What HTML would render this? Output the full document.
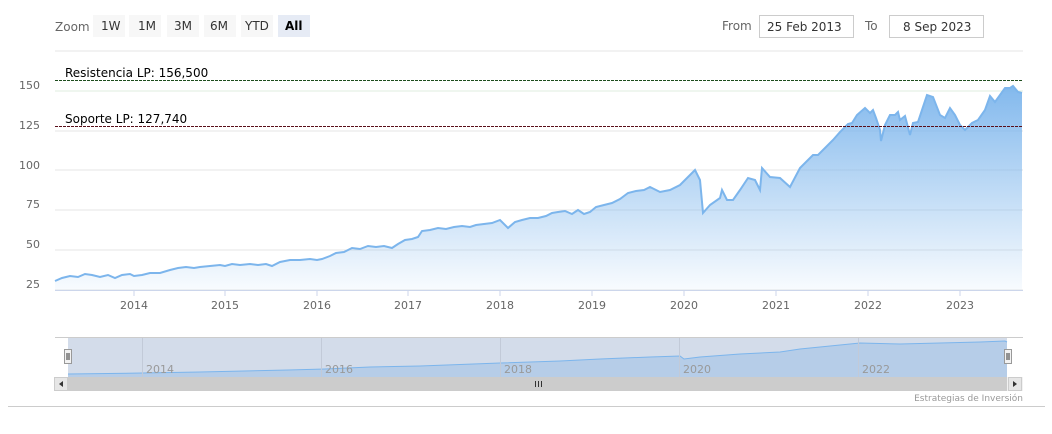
<!DOCTYPE html>
<html><head><meta charset="utf-8"><style>
body{margin:0;background:#fff;width:1052px;height:429px;overflow:hidden;font-family:"Liberation Sans","DejaVu Sans",sans-serif}
svg text{font-family:"DejaVu Sans","Liberation Sans",sans-serif}
</style></head><body>
<svg width="1052" height="429" viewBox="0 0 1052 429" xmlns="http://www.w3.org/2000/svg">
<defs>
<linearGradient id="g" x1="0" y1="0" x2="0" y2="1"><stop offset="0" stop-color="#7cb5ec" stop-opacity="0.95"/><stop offset="1" stop-color="#7cb5ec" stop-opacity="0.05"/></linearGradient>
</defs>
<!-- buttons -->
<text x="55" y="31" font-size="12" fill="#666">Zoom</text>
<g font-size="12" fill="#333">
<rect x="93" y="15" width="32" height="22" fill="#f7f7f7"/><text x="101" y="30">1W</text>
<rect x="129" y="15" width="32" height="22" fill="#f7f7f7"/><text x="138" y="30">1M</text>
<rect x="167" y="15" width="32" height="22" fill="#f7f7f7"/><text x="174" y="30">3M</text>
<rect x="204" y="15" width="32" height="22" fill="#f7f7f7"/><text x="210" y="30">6M</text>
<rect x="241" y="15" width="32" height="22" fill="#f7f7f7"/><text x="245" y="30">YTD</text>
<rect x="278" y="15" width="32" height="22" fill="#e6ebf5"/><text x="285" y="30" font-weight="bold" fill="#000">All</text>
</g>
<text x="722" y="30" font-size="12" fill="#666">From</text>
<rect x="759.5" y="15.5" width="94" height="22" fill="#fff" stroke="#ccc"/>
<text x="767" y="31" font-size="12" fill="#333">25 Feb 2013</text>
<text x="865" y="30" font-size="12" fill="#666">To</text>
<rect x="889.5" y="15.5" width="94" height="22" fill="#fff" stroke="#ccc"/>
<text x="903" y="31" font-size="12" fill="#333">8 Sep 2023</text>
<line x1="55" y1="51" x2="1023" y2="51" stroke="#e6e6e6"/>
<!-- grid -->
<g stroke="#e6e6e6">
<line x1="55" y1="91" x2="1023" y2="91" stroke="#dfeedf"/><line x1="55" y1="131" x2="1023" y2="131"/><line x1="55" y1="170" x2="1023" y2="170"/><line x1="55" y1="210" x2="1023" y2="210"/><line x1="55" y1="250" x2="1023" y2="250"/><line x1="55" y1="290" x2="1023" y2="290"/>
</g>
<g font-size="11" fill="#666" text-anchor="end">
<text x="40" y="89">150</text><text x="40" y="129">125</text><text x="40" y="169">100</text><text x="40" y="208">75</text><text x="40" y="248">50</text><text x="40" y="288">25</text>
</g>
<path id="s" d="M55,281 L62,278 70,276 78,277 85,274 92,275 100,277 108,275 115,278 122,275 130,274 134,276 142,275 150,273 160,273 170,270 178,268 186,267 194,268 200,267 210,266 220,265 225,266 232,264 240,265 250,264 258,265 266,264 272,266 280,262 290,260 300,260 310,259 317,260 322,259 330,256 336,253 344,252 352,248 360,249 368,246 376,247 384,246 392,248 398,244 405,240 412,239 418,237 422,231 430,230 438,228 446,229 454,227 462,226 470,227 476,225 484,224 492,223 500,220 508,228 515,222 522,220 530,218 538,218 546,216 552,213 558,212 565,211 572,214 578,210 584,214 590,212 596,207 604,205 612,203 620,199 628,193 636,191 644,190 650,187 660,192 670,190 680,185 690,175 695,170 700,180 703,213 710,205 720,198 722,190 727,200 733,200 740,190 748,178 755,180 760,190 762,168 770,177 780,178 790,187 800,168 808,160 813,155 818,155 825,148 833,140 840,132 848,124 852,123 857,115 865,108 870,113 873,110 876,118 880,130 881,141 885,125 890,115 895,115 898,112 900,120 905,116 910,135 913,123 918,122 922,110 927,95 933,97 940,115 945,118 950,108 955,115 960,125 965,130 972,123 978,120 985,110 990,96 995,102 1005,88 1010,88 1013,86 1018,92 1022,93" fill="none"/>
<path d="M55,281 L62,278 70,276 78,277 85,274 92,275 100,277 108,275 115,278 122,275 130,274 134,276 142,275 150,273 160,273 170,270 178,268 186,267 194,268 200,267 210,266 220,265 225,266 232,264 240,265 250,264 258,265 266,264 272,266 280,262 290,260 300,260 310,259 317,260 322,259 330,256 336,253 344,252 352,248 360,249 368,246 376,247 384,246 392,248 398,244 405,240 412,239 418,237 422,231 430,230 438,228 446,229 454,227 462,226 470,227 476,225 484,224 492,223 500,220 508,228 515,222 522,220 530,218 538,218 546,216 552,213 558,212 565,211 572,214 578,210 584,214 590,212 596,207 604,205 612,203 620,199 628,193 636,191 644,190 650,187 660,192 670,190 680,185 690,175 695,170 700,180 703,213 710,205 720,198 722,190 727,200 733,200 740,190 748,178 755,180 760,190 762,168 770,177 780,178 790,187 800,168 808,160 813,155 818,155 825,148 833,140 840,132 848,124 852,123 857,115 865,108 870,113 873,110 876,118 880,130 881,141 885,125 890,115 895,115 898,112 900,120 905,116 910,135 913,123 918,122 922,110 927,95 933,97 940,115 945,118 950,108 955,115 960,125 965,130 972,123 978,120 985,110 990,96 995,102 1005,88 1010,88 1013,86 1018,92 1022,93 L1022,290 L55,290Z" fill="url(#g)"/>
<use href="#s" stroke="#7cb5ec" stroke-width="2"/>
<line x1="55" y1="80.5" x2="1023" y2="80.5" stroke="#1e4d1e" stroke-dasharray="3,1"/>
<line x1="55" y1="126.5" x2="1023" y2="126.5" stroke="#5a0f1a" stroke-dasharray="3,1"/>
<text x="65" y="77" font-size="12" fill="#000">Resistencia LP: 156,500</text>
<text x="65" y="123" font-size="12" fill="#000">Soporte LP: 127,740</text>
<line x1="55" y1="290.5" x2="1023" y2="290.5" stroke="#ccd6eb"/>
<g stroke="#ccd6eb"><line x1="134" y1="290" x2="134" y2="296"/><line x1="225" y1="290" x2="225" y2="296"/><line x1="317" y1="290" x2="317" y2="296"/><line x1="408" y1="290" x2="408" y2="296"/><line x1="500" y1="290" x2="500" y2="296"/><line x1="592" y1="290" x2="592" y2="296"/><line x1="684" y1="290" x2="684" y2="296"/><line x1="776" y1="290" x2="776" y2="296"/><line x1="868" y1="290" x2="868" y2="296"/><line x1="960" y1="290" x2="960" y2="296"/></g>
<g font-size="11" fill="#666" text-anchor="middle">
<text x="134" y="309">2014</text><text x="225" y="309">2015</text><text x="317" y="309">2016</text><text x="408" y="309">2017</text><text x="500" y="309">2018</text><text x="592" y="309">2019</text><text x="684" y="309">2020</text><text x="776" y="309">2021</text><text x="868" y="309">2022</text><text x="960" y="309">2023</text>
</g>
<!-- navigator -->
<line x1="55" y1="337.5" x2="1023" y2="337.5" stroke="#ccc"/>
<rect x="68" y="338" width="939" height="39" fill="#d3dcea"/>
<path d="M68,374 L142,373 200,372 288,370 325,369 370,367 420,366 500,363 560,361 600,359 650,357 680,356 684,359 700,357 740,354 780,352 800,349 830,346 860,343 900,344 940,343 980,342 1005,341 1007,342 L1007,377 L68,377Z" fill="#a9c6e7" opacity="0.7"/>
<path d="M68,374 L142,373 200,372 288,370 325,369 370,367 420,366 500,363 560,361 600,359 650,357 680,356 684,359 700,357 740,354 780,352 800,349 830,346 860,343 900,344 940,343 980,342 1005,341 1007,342" fill="none" stroke="#7cb5ec"/>
<g stroke="#c2cad8"><line x1="142.5" y1="338" x2="142.5" y2="377"/><line x1="321.5" y1="338" x2="321.5" y2="377"/><line x1="500.5" y1="338" x2="500.5" y2="377"/><line x1="679.5" y1="338" x2="679.5" y2="377"/><line x1="858.5" y1="338" x2="858.5" y2="377"/></g>
<g font-size="11" fill="#999"><text x="146" y="373">2014</text><text x="325" y="373">2016</text><text x="504" y="373">2018</text><text x="683" y="373">2020</text><text x="862" y="373">2022</text></g>
<rect x="64.5" y="349.5" width="7" height="14" fill="#f2f2f2" stroke="#999"/><line x1="67" y1="353" x2="67" y2="360" stroke="#333"/><line x1="69" y1="353" x2="69" y2="360" stroke="#333"/>
<rect x="1004.5" y="349.5" width="7" height="14" fill="#f2f2f2" stroke="#999"/><line x1="1007" y1="353" x2="1007" y2="360" stroke="#333"/><line x1="1009" y1="353" x2="1009" y2="360" stroke="#333"/>
<rect x="55" y="377" width="968" height="14" fill="#f2f2f2"/>
<rect x="68" y="377" width="939" height="14" fill="#cccccc"/>
<rect x="54.5" y="377.5" width="13" height="13" fill="#e6e6e6" stroke="#ccc"/><path d="M63,381 L59,384 63,387Z" fill="#333"/>
<rect x="1008.5" y="377.5" width="13" height="13" fill="#e6e6e6" stroke="#ccc"/><path d="M1013,381 L1017,384 1013,387Z" fill="#333"/>
<g stroke="#333"><line x1="535.5" y1="381" x2="535.5" y2="387"/><line x1="538.5" y1="381" x2="538.5" y2="387"/><line x1="541.5" y1="381" x2="541.5" y2="387"/></g>
<text x="1023" y="401" font-size="9" fill="#999" text-anchor="end">Estrategias de Inversión</text>
<line x1="8" y1="406.5" x2="1045" y2="406.5" stroke="#ccc"/>
</svg>
</body></html>
